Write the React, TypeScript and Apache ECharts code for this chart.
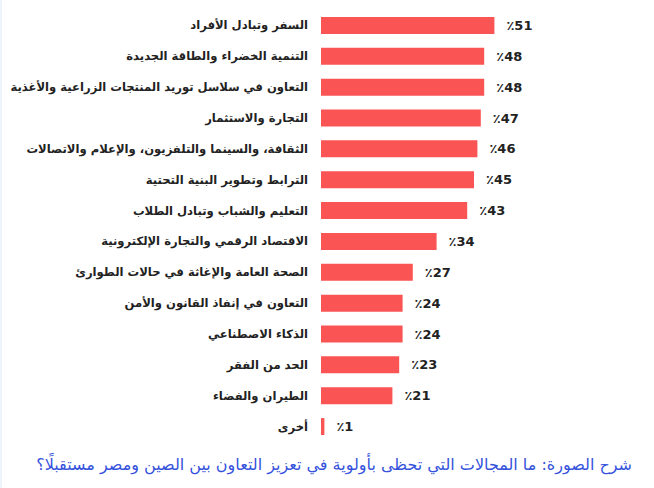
import React, { useEffect, useRef } from "react";
import * as echarts from "echarts";

const categories: string[] = [
  "السفر وتبادل الأفراد",
  "التنمية الخضراء والطاقة الجديدة",
  "التعاون في سلاسل توريد المنتجات الزراعية والأغذية",
  "التجارة والاستثمار",
  "الثقافة، والسينما والتلفزيون، والإعلام والاتصالات",
  "الترابط وتطوير البنية التحتية",
  "التعليم والشباب وتبادل الطلاب",
  "الاقتصاد الرقمي والتجارة الإلكترونية",
  "الصحة العامة والإغاثة في حالات الطوارئ",
  "التعاون في إنفاذ القانون والأمن",
  "الذكاء الاصطناعي",
  "الحد من الفقر",
  "الطيران والفضاء",
  "أخرى",
];

const values: number[] = [51, 48, 48, 47, 46, 45, 43, 34, 27, 24, 24, 23, 21, 1];

const caption = "شرح الصورة: ما المجالات التي تحظى بأولوية في تعزيز التعاون بين الصين ومصر مستقبلًا؟";

export default function App() {
  const ref = useRef<HTMLDivElement>(null);
  useEffect(() => {
    if (!ref.current) return;
    const chart = echarts.init(ref.current, undefined, { renderer: "svg" });
    chart.setOption({
      animation: false,
      backgroundColor: "#ffffff",
      grid: {
        left: 321,
        right: 129,
        top: 10,
        bottom: 46,
        containLabel: false,
        outerBoundsMode: "none",
      },
      xAxis: {
        type: "value",
        min: 0,
        max: 60,
        show: false,
        splitLine: { show: false },
      },
      yAxis: {
        type: "category",
        inverse: true,
        data: categories,
        axisLine: { show: false },
        axisTick: { show: false },
        axisLabel: {
          margin: 13,
          fontFamily: "DejaVu Sans",
          fontWeight: "bold",
          fontSize: 11.6,
          color: "#222222",
        },
      },
      series: [
        {
          type: "bar",
          data: values,
          barWidth: 17,
          itemStyle: { color: "#fb5454" },
          label: {
            show: true,
            position: "right",
            distance: 12,
            fontFamily: "DejaVu Sans",
            fontWeight: "bold",
            fontSize: 13,
            color: "#222222",
            formatter: (p: any) => "٪" + p.value,
          },
        },
      ],
      graphic: [
        {
          type: "rect",
          left: 0,
          top: 0,
          shape: { width: 2, height: 488 },
          style: { fill: "#eef4fb" },
        },
        {
          type: "text",
          right: 22,
          top: 456,
          style: {
            text: caption,
            fontFamily: "DejaVu Sans",
            fontSize: 16,
            fill: "#3552dc",
          },
        },
      ],
    });
    return () => chart.dispose();
  }, []);
  return (
    <div
      ref={ref}
      style={{ position: "absolute", left: 0, top: 0, width: 654, height: 488 }}
    />
  );
}
